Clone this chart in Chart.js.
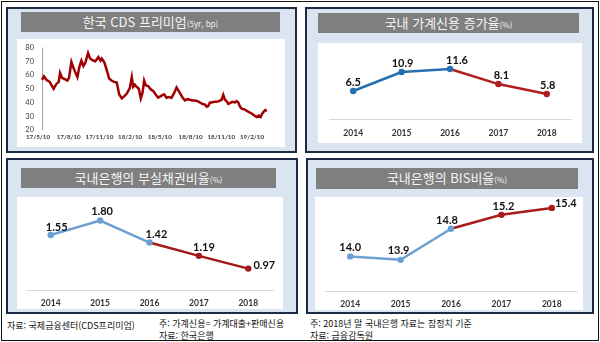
<!DOCTYPE html>
<html lang="ko">
<head>
<meta charset="utf-8">
<script src="https://cdn.jsdelivr.net/npm/chart.js@4/dist/chart.umd.min.js"></script>
<style>
  body { margin: 0; width: 600px; height: 342px; background: #fff; position: relative; overflow: hidden;
         font-family: "Noto Sans CJK KR", sans-serif; }
  .frame { position: absolute; left: 1px; top: 1px; width: 596px; height: 338px; border: 1px solid #111; }
  .panel { position: absolute; background: #dbe5f1; border: 2px solid #1d2a44; box-sizing: border-box; }
  .title { position: absolute; background: #7f7f7f; color: #f4f4f4; text-align: center;
           font-size: 13px; line-height: 20px; white-space: nowrap; }
  .title small { font-size: 8px; }
  .plot { position: absolute; background: #fff; }
  .plot canvas { position: absolute; left: 0; top: 0; }
  .note { position: absolute; font-size: 9px; line-height: 12px; color: #111; white-space: nowrap; }
</style>
</head>
<body>
<div class="frame"></div>

<div class="panel" style="left:6px;top:7px;width:291px;height:146px"></div>
<div class="panel" style="left:305px;top:7px;width:289px;height:146px"></div>
<div class="panel" style="left:6px;top:158px;width:292px;height:156px"></div>
<div class="panel" style="left:306px;top:158px;width:288px;height:156px"></div>

<div class="title" style="left:21px;top:12px;width:259px;height:20px">한국 CDS 프리미엄<small>(5yr, bp)</small></div>
<div class="title" style="left:318px;top:13px;width:261px;height:20px">국내 가계신용 증가율<small>(%)</small></div>
<div class="title" style="left:21px;top:168px;width:255px;height:20px">국내은행의 부실채권비율<small>(%)</small></div>
<div class="title" style="left:316px;top:168px;width:262px;height:21px">국내은행의 BIS비율<small>(%)</small></div>

<div class="plot" style="left:17px;top:39px;width:268px;height:108px"><canvas id="cdsChart" width="268" height="108"></canvas></div>
<div class="plot" style="left:318px;top:43px;width:264px;height:100px"><canvas id="creditChart" width="264" height="100"></canvas></div>
<div class="plot" style="left:17px;top:197px;width:266px;height:112px"><canvas id="nplChart" width="266" height="112"></canvas></div>
<div class="plot" style="left:315px;top:197px;width:268px;height:113px"><canvas id="bisChart" width="268" height="113"></canvas></div>

<div class="note" style="left:7px;top:320px">자료: 국제금융센터(CDS프리미엄)</div>
<div class="note" style="left:159px;top:318px">주: 가계신용= 가계대출+판매신용<br>자료: 한국은행</div>
<div class="note" style="left:310px;top:318px">주: 2018년 말 국내은행 자료는 잠정치 기준<br>자료: 금융감독원</div>

<script>
// CDS premium, x = days since 2017-05-10
const cdsDay = [12, 18, 25, 35, 42, 47, 55, 62, 66, 72, 80, 88, 93, 100, 105, 110, 118, 124, 130, 136,
  142, 150, 156, 165, 172, 181, 187, 191, 199, 206, 213, 220, 228, 236, 243, 251, 258, 266, 275, 281,
  285, 290, 295, 302, 308, 313, 318, 323, 330, 338, 345, 352, 360, 370, 378, 385, 392, 400, 408, 415,
  420, 425, 432, 440, 448, 455, 462, 470, 478, 485, 492, 500, 505, 510, 515, 520, 528, 535, 542, 550,
  555, 560, 565, 570, 575, 582, 590, 595, 600, 605, 610, 618, 625, 632, 640, 648, 655, 662, 667, 672,
  677, 681, 686];
const cdsValue = [56.5, 59, 56.5, 55, 52, 50, 53.5, 55, 61.5, 58, 57, 56, 58, 69.5, 66, 63, 58.5, 66, 70.5, 66.5,
  69, 76, 72, 70.5, 70, 73, 70.5, 72, 69, 63.5, 57.5, 56, 55, 54.5, 46, 43, 44.5, 46.5, 50.5, 58.5,
  51.5, 53, 51.5, 50, 43, 47, 56, 52.5, 52, 49.5, 48.5, 46, 43.5, 45, 46, 43.5, 44, 43.5, 47, 51,
  49, 47, 44, 41.5, 42.5, 42, 41.5, 41.5, 41, 40, 39, 38.5, 37, 37.5, 40, 40, 40.5, 40.5, 41, 42,
  45.5, 42, 41, 39, 39.5, 40.5, 40, 41, 40, 37, 35.5, 35, 34, 33, 32, 30.5, 29.5, 30.5, 29.5, 32,
  33.5, 34.5, 34];
const cdsTickDay = [0, 92, 184, 276, 365, 457, 549, 641];
const cdsTickLabel = ['17/5/10', '17/8/10', '17/11/10', '18/2/10', '18/5/10', '18/8/10', '18/11/10', '19/2/10'];

const years = ['2014', '2015', '2016', '2017', '2018'];
const householdCredit = [6.5, 10.9, 11.6, 8.1, 5.8];
const nplRatio = [1.55, 1.80, 1.42, 1.19, 0.97];
const bisRatio = [14.0, 13.9, 14.8, 15.2, 15.4];

// vertical axis line starting where the series starts
const axisLine = {
    id: 'axisLine',
    beforeDatasetsDraw(chart) {
        const x = chart.scales.x.getPixelForValue(cdsDay[0]);
        const area = chart.chartArea;
        const ctx = chart.ctx;
        ctx.save();
        ctx.strokeStyle = '#a6a6a6';
        ctx.lineWidth = 1;
        ctx.beginPath();
        ctx.moveTo(Math.round(x) + 0.5, area.top);
        ctx.lineTo(Math.round(x) + 0.5, area.bottom);
        ctx.stroke();
        ctx.restore();
    }
};

new Chart(document.getElementById('cdsChart'), {
    type: 'line',
    data: {
        datasets: [{
            data: cdsDay.map((d, i) => ({ x: d, y: cdsValue[i] })),
            borderColor: '#a00000',
            borderWidth: 2.5,
            pointRadius: 0,
            tension: 0
        }]
    },
    options: {
        responsive: false,
        animation: false,
        layout: { padding: { left: 0, right: 18, top: 7, bottom: 0 } },
        plugins: { legend: { display: false }, tooltip: { enabled: false } },
        scales: {
            x: {
                type: 'linear',
                min: 0,
                max: 686,
                afterBuildTicks: s => { s.ticks = cdsTickDay.map(v => ({ value: v })); },
                afterFit: s => { s.height = 17; },
                ticks: {
                    callback: (v, i) => cdsTickLabel[i],
                    autoSkip: false, maxRotation: 0, padding: 3,
                    font: { family: 'Lato', size: 6.3, weight: 'bold' }, color: '#404040'
                },
                grid: { display: false, drawTicks: false },
                border: { display: false }
            },
            y: {
                min: 20,
                max: 80,
                afterFit: s => { s.width = 21; },
                ticks: { stepSize: 10, padding: 4, font: { family: 'Lato', size: 7.5 }, color: '#404040' },
                grid: { display: false, drawTicks: false },
                border: { display: false }
            }
        }
    },
    plugins: [axisLine]
});

// value labels next to each point
const pointLabels = {
    id: 'pointLabels',
    afterDatasetsDraw(chart, args, opts) {
        const meta = chart.getDatasetMeta(0);
        const values = chart.data.datasets[0].data;
        const ctx = chart.ctx;
        ctx.save();
        ctx.font = 'bold 11px Lato, sans-serif';
        ctx.fillStyle = '#111';
        ctx.textAlign = 'center';
        ctx.textBaseline = 'middle';
        meta.data.forEach((pt, i) => {
            const [dx, dy] = opts.shift[i];
            ctx.fillText(values[i].toFixed(opts.digits), pt.x + dx, pt.y + dy);
        });
        ctx.restore();
    }
};

function yearChart(id, values, cfg) {
    const colorAt = i => (i <= 2 ? cfg.blue : cfg.red);
    return new Chart(document.getElementById(id), {
        type: 'line',
        data: {
            labels: years,
            datasets: [{
                data: values,
                borderWidth: 2.5,
                borderColor: cfg.blue,
                segment: { borderColor: c => colorAt(c.p1DataIndex) },
                pointRadius: 3.2,
                pointBorderWidth: 0,
                pointBackgroundColor: values.map((v, i) => colorAt(i)),
                tension: 0
            }]
        },
        options: {
            responsive: false,
            animation: false,
            layout: { padding: cfg.padding },
            plugins: {
                legend: { display: false },
                tooltip: { enabled: false },
                pointLabels: { shift: cfg.shift, digits: cfg.digits }
            },
            scales: {
                x: {
                    offset: true,
                    afterFit: s => { s.height = cfg.axisHeight; },
                    ticks: { padding: cfg.tickPad, font: { family: 'Lato', size: 8.5, weight: 'bold' }, color: '#333' },
                    grid: { display: false, drawTicks: false },
                    border: { color: '#d9d9d9', width: 1 }
                },
                y: { display: false, min: cfg.min, max: cfg.max }
            }
        },
        plugins: [pointLabels]
    });
}

yearChart('creditChart', householdCredit, {
    blue: '#2670b0', red: '#b01e1e', min: 0, max: 16, digits: 1,
    padding: { left: 11, right: 11, top: 7, bottom: 0 }, axisHeight: 24, tickPad: 9,
    shift: [[0, -9], [1, -9], [7, -9], [3, -9], [1, -9]]
});

yearChart('nplChart', nplRatio, {
    blue: '#6c9fd2', red: '#a31818', min: 0.6, max: 2.0, digits: 2,
    padding: { left: 9, right: 10, top: 12, bottom: 0 }, axisHeight: 19, tickPad: 8,
    shift: [[6, -8], [2, -9], [7, -8], [5, -8], [16, -3]]
});

yearChart('bisChart', bisRatio, {
    blue: '#6c9fd2', red: '#a81c1c', min: 13, max: 15.6, digits: 1,
    padding: { left: 10, right: 6, top: 3, bottom: 0 }, axisHeight: 19, tickPad: 8,
    shift: [[0, -9], [-2, -9], [-4, -8], [2, -8], [14, -4]]
});
</script>
</body>
</html>
